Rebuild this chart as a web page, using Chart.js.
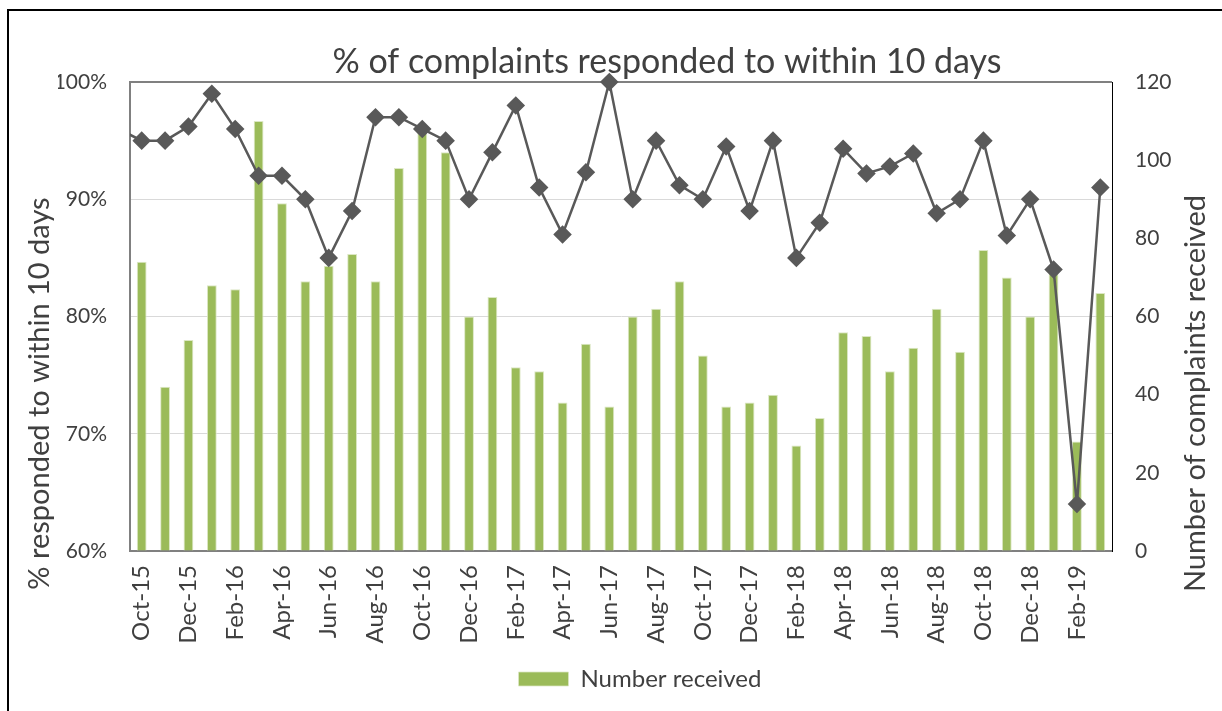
<!DOCTYPE html>
<html lang="en">
<head>
    <meta charset="UTF-8">
    <title>% of complaints responded to within 10 days</title>
    <script src="https://cdn.jsdelivr.net/npm/chart.js"></script>
    <style>
        body { margin: 0; padding: 0; background: #fff; overflow: hidden; }
        #wrap { position: relative; width: 1222px; height: 711px; }
        #frame {
            position: absolute; left: 7px; top: 9px; width: 1300px; height: 800px;
            border-top: 2px solid #000; border-left: 2px solid #000;
            pointer-events: none;
        }
    </style>
</head>
<body>

<div id="wrap">
    <canvas id="complaintsChart"></canvas>
    <div id="frame"></div>
</div>

<script>
    // months (Sep-15 only feeds the line stub entering from the left edge)
    const months = [
        'Sep-15', 'Oct-15', 'Nov-15', 'Dec-15', 'Jan-16', 'Feb-16', 'Mar-16', 'Apr-16', 'May-16',
        'Jun-16', 'Jul-16', 'Aug-16', 'Sep-16', 'Oct-16', 'Nov-16', 'Dec-16', 'Jan-17',
        'Feb-17', 'Mar-17', 'Apr-17', 'May-17', 'Jun-17', 'Jul-17', 'Aug-17', 'Sep-17',
        'Oct-17', 'Nov-17', 'Dec-17', 'Jan-18', 'Feb-18', 'Mar-18', 'Apr-18', 'May-18',
        'Jun-18', 'Jul-18', 'Aug-18', 'Sep-18', 'Oct-18', 'Nov-18', 'Dec-18', 'Jan-19',
        'Feb-19', 'Mar-19'
    ];

    // % responded to within 10 days (left axis)
    const pctResponded = [
        96, 95, 95, 96.2, 99, 96, 92, 92, 90,
        85, 89, 97, 97, 96, 95, 90, 94,
        98, 91, 87, 92.3, 100, 90, 95, 91.2,
        90, 94.5, 89, 95, 85, 88, 94.3, 92.2,
        92.8, 93.9, 88.8, 90, 95, 86.9, 90, 84,
        64, 91
    ];

    // number of complaints received (right axis)
    const numReceived = [
        null, 74, 42, 54, 68, 67, 110, 89, 69,
        73, 76, 69, 98, 108, 102, 60, 65,
        47, 46, 38, 53, 37, 60, 62, 69,
        50, 37, 38, 40, 27, 34, 56, 55,
        46, 52, 62, 51, 77, 70, 60, 72,
        28, 66
    ];

    const pctTicks = [60, 70, 80, 90, 100];
    const countTicks = [0, 20, 40, 60, 80, 100, 120];

    const chartTitle = '% of complaints responded to within 10 days';
    const leftTitle = '% responded to within 10 days';
    const rightTitle = 'Number of complaints received';

    const textColor = '#404040';
    const fontFamily = 'Lato, "Open Sans", sans-serif';

    // titles drawn by hand: Excel puts them off-centre and the right one reads upwards
    const titlesPlugin = {
        id: 'titles',
        afterDraw(chart) {
            const ctx = chart.ctx;
            const area = chart.chartArea;
            ctx.save();
            ctx.fillStyle = textColor;
            ctx.textAlign = 'center';
            ctx.textBaseline = 'middle';

            ctx.font = '34px ' + fontFamily;
            ctx.fillText(chartTitle, 667, 62);

            ctx.font = '29px ' + fontFamily;
            const cy = (area.top + area.bottom) / 2 + 77;
            ctx.save();
            ctx.translate(40, cy);
            ctx.rotate(-Math.PI / 2);
            ctx.fillText(leftTitle, 0, 0);
            ctx.restore();

            ctx.save();
            ctx.translate(1196, cy);
            ctx.rotate(-Math.PI / 2);
            ctx.fillText(rightTitle, 0, 0);
            ctx.restore();
            ctx.restore();
        }
    };

    const ctx = document.getElementById('complaintsChart').getContext('2d');
    new Chart(ctx, {
        data: {
            labels: months,
            datasets: [
                {
                    type: 'line',
                    label: '% responded',
                    data: pctResponded,
                    yAxisID: 'y',
                    order: 0,
                    borderColor: '#595959',
                    borderWidth: 2.5,
                    pointStyle: 'rectRot',
                    pointRadius: 7.5,
                    pointBackgroundColor: '#595959',
                    pointBorderColor: '#595959',
                    tension: 0,
                    clip: { left: 0, top: 20, right: 20, bottom: 20 }
                },
                {
                    type: 'bar',
                    label: 'Number received',
                    data: numReceived,
                    yAxisID: 'y1',
                    order: 1,
                    backgroundColor: '#9BBB59',
                    borderColor: '#DCE7C4',
                    borderWidth: { left: 1, right: 1, top: 1, bottom: 0 },
                    barPercentage: 0.42,
                    categoryPercentage: 1
                }
            ]
        },
        options: {
            responsive: true,
            maintainAspectRatio: false,
            animation: false,
            // left padding only nudges the full-width legend to the right
            layout: { padding: { top: 82, left: 58, right: 0, bottom: 10 } },
            plugins: {
                title: { display: false },
                tooltip: { enabled: false },
                legend: {
                    position: 'bottom',
                    labels: {
                        filter: item => item.text === 'Number received',
                        boxWidth: 50,
                        boxHeight: 14,
                        color: textColor,
                        font: { family: fontFamily, size: 24 }
                    }
                }
            },
            scales: {
                x: {
                    min: 'Oct-15',
                    grid: { display: false, drawTicks: false },
                    border: { color: '#808080', width: 2 },
                    ticks: {
                        autoSkip: false,
                        minRotation: 90,
                        maxRotation: 90,
                        padding: 14,
                        color: textColor,
                        font: { family: fontFamily, size: 24 },
                        callback: function (value) {
                            return (value - 1) % 2 === 0 ? this.getLabelForValue(value) : '';
                        }
                    },
                    afterFit: scale => { scale.height = 106; }
                },
                y: {
                    position: 'left',
                    min: 60,
                    max: 100,
                    afterBuildTicks: scale => { scale.ticks = pctTicks.map(v => ({ value: v })); },
                    grid: {
                        drawTicks: false,
                        color: c => c.tick && c.tick.value === 100 ? '#808080' : '#D9D9D9',
                        lineWidth: c => c.tick && c.tick.value === 100 ? 2 : 1
                    },
                    border: { color: '#808080', width: 2 },
                    ticks: {
                        padding: 23,
                        color: textColor,
                        font: { family: fontFamily, size: 21 },
                        callback: v => v + '%'
                    },
                    afterFit: scale => { scale.width = 72; }
                },
                y1: {
                    position: 'right',
                    min: 0,
                    max: 120,
                    afterBuildTicks: scale => { scale.ticks = countTicks.map(v => ({ value: v })); },
                    grid: { drawOnChartArea: false, drawTicks: false },
                    border: { color: '#000', width: 1 },
                    ticks: {
                        padding: 23,
                        color: textColor,
                        font: { family: fontFamily, size: 21 }
                    },
                    afterFit: scale => { scale.width = 110; }
                }
            }
        },
        plugins: [titlesPlugin]
    });
</script>

</body>
</html>
